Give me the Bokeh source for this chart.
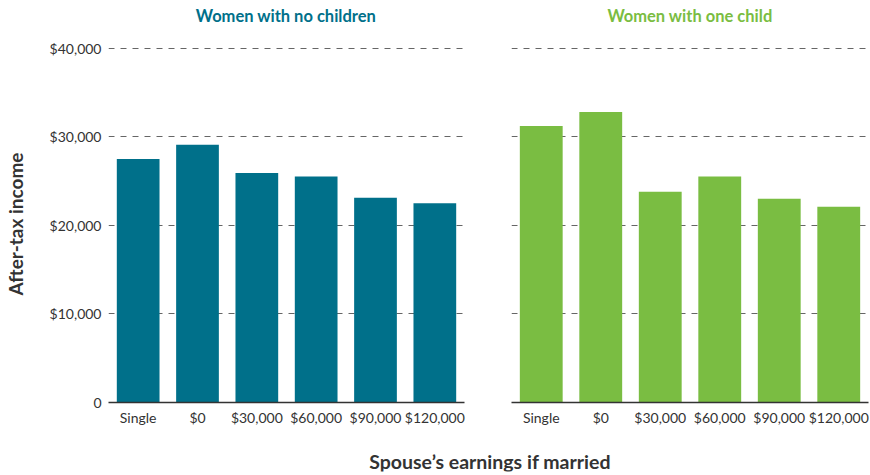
from bokeh.plotting import figure
from bokeh.layouts import column, row
from bokeh.models import FactorRange, Range1d, FixedTicker, Label
from bokeh.embed import file_html
from bokeh.resources import INLINE

categories = ["Single", "$0", "$30,000", "$60,000", "$90,000", "$120,000"]
no_children = [27500, 29100, 25900, 25500, 23100, 22500]
one_child = [31200, 32800, 23800, 25500, 23000, 22100]
y_ticks = [0, 10000, 20000, 30000, 40000]
y_tick_labels = ["0", "$10,000", "$20,000", "$30,000", "$40,000"]
title_left = "Women with no children"
title_right = "Women with one child"
y_title = "After-tax income"
x_title = "Spouse\u2019s earnings if married"

TEAL = "#00708a"
GREEN = "#7abd42"
FONT = "Lato"
TXT = "#333333"


def text_strip(text, color, width, height, left, right, top, bottom, size):
    s = figure(width=width, height=height, output_backend="svg",
               toolbar_location=None, x_range=Range1d(0, 1), y_range=Range1d(0, 1),
               min_border_left=left, min_border_right=right,
               min_border_top=top, min_border_bottom=bottom)
    s.outline_line_color = None
    s.xaxis.visible = False
    s.yaxis.visible = False
    s.grid.grid_line_color = None
    s.add_layout(Label(x=0.5, y=0.5, text=text, text_align="center",
                       text_baseline="middle", text_font=FONT, text_font_size=size,
                       text_font_style="bold", text_color=color))
    return s


def panel(values, color, width, left_border, right_border, show_y):
    p = figure(x_range=FactorRange(*categories, range_padding=0),
               y_range=Range1d(0, 40300),
               width=width, height=405, output_backend="svg",
               toolbar_location=None,
               min_border_left=left_border, min_border_right=right_border,
               min_border_top=15, min_border_bottom=33)
    p.outline_line_color = None
    p.vbar(x=categories, top=values, width=0.72, color=color, line_color=None)
    p.xgrid.grid_line_color = None
    p.ygrid.ticker = FixedTicker(ticks=y_ticks)
    p.ygrid.grid_line_color = "#666666"
    p.ygrid.grid_line_dash = "6 6"
    p.ygrid.grid_line_width = 1
    p.xaxis.axis_line_color = "#333333"
    p.xaxis.axis_line_width = 1.5
    p.xaxis.major_tick_line_color = None
    p.xaxis.major_tick_out = 0
    p.xaxis.major_tick_in = 0
    p.xaxis.minor_tick_line_color = None
    p.xaxis.major_label_text_font = FONT
    p.xaxis.major_label_text_font_size = "14px"
    p.xaxis.major_label_text_color = TXT
    p.xaxis.major_label_standoff = 6
    if show_y:
        p.yaxis.ticker = FixedTicker(ticks=y_ticks)
        p.yaxis.major_label_overrides = {t: l for t, l in zip(y_ticks, y_tick_labels)}
        p.yaxis.axis_line_color = None
        p.yaxis.major_tick_line_color = None
        p.yaxis.major_tick_out = 0
        p.yaxis.major_tick_in = 0
        p.yaxis.minor_tick_line_color = None
        p.yaxis.major_label_text_font = FONT
        p.yaxis.major_label_text_font_size = "14px"
        p.yaxis.major_label_text_color = TXT
        p.yaxis.major_label_standoff = 7
        p.yaxis.axis_label = y_title
        p.yaxis.axis_label_text_font = FONT
        p.yaxis.axis_label_text_font_size = "19px"
        p.yaxis.axis_label_text_font_style = "bold"
        p.yaxis.axis_label_text_color = TXT
        p.yaxis.axis_label_standoff = 20
    else:
        p.yaxis.visible = False
    return p


t1 = text_strip(title_left, TEAL, 474, 30, 107, 10, 0, 0, "16.5px")
t2 = text_strip(title_right, GREEN, 395, 30, 37, 1, 0, 0, "16.5px")
p1 = panel(no_children, TEAL, 474, 107, 10, True)
p2 = panel(one_child, GREEN, 395, 37, 1, False)
p3 = text_strip(x_title, TXT, 869, 38, 110, 0, 16, 2, "19.5px")

layout = column(row(t1, t2), row(p1, p2), p3)
open("out.html", "w").write(file_html(layout, INLINE))
